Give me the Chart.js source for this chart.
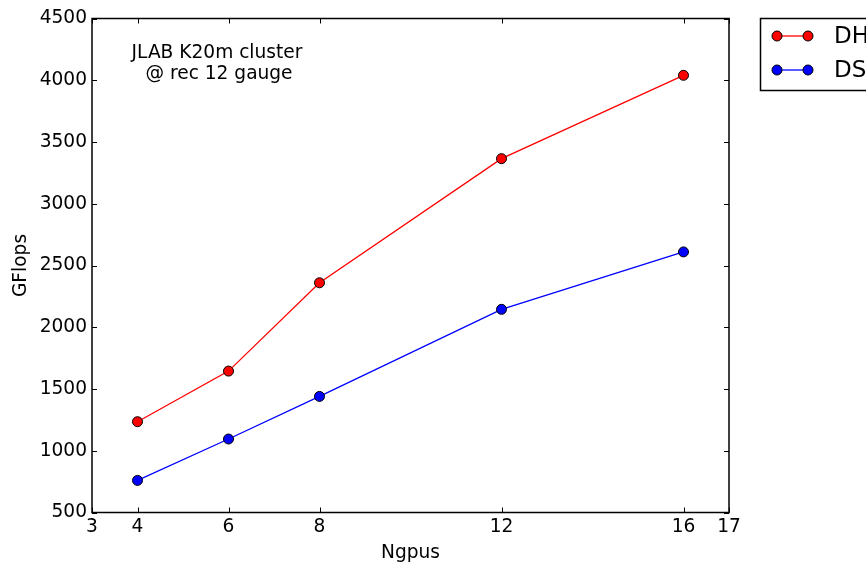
<!DOCTYPE html>
<html>
<head>
<meta charset="utf-8">
<script src="https://cdn.jsdelivr.net/npm/chart.js@4/dist/chart.umd.min.js"></script>
<style>
html,body{margin:0;padding:0;background:#fff;}
#wrap{width:866px;height:566px;position:relative;}
</style>
</head>
<body>
<div id="wrap"><canvas id="c" width="866" height="566"></canvas></div>
<script>
const ngpus = [4, 6, 8, 12, 16];
const dhValues = [1235, 1645, 2360, 3365, 4040];
const dsValues = [760, 1095, 1440, 2145, 2610];
const seriesLabels = ['DH', 'DS'];
const seriesColors = ['#ff0000', '#0000ff'];
const xTicks = [3, 4, 6, 8, 12, 16, 17];
const yTicks = [500, 1000, 1500, 2000, 2500, 3000, 3500, 4000, 4500];
const annotationLines = ['JLAB K20m cluster', '@ rec 12 gauge'];
const xTitle = 'Ngpus';
const yTitle = 'GFlops';

const FONT = '"DejaVu Sans", sans-serif';
const FS = 18.6;

const framePlugin = {
  id: 'frame',
  afterDatasetsDraw(chart) {
    const ctx = chart.ctx;
    const a = chart.chartArea;
    const xs = chart.scales.x, ys = chart.scales.y;
    ctx.save();
    ctx.strokeStyle = '#000';
    ctx.lineWidth = 1.5;
    ctx.strokeRect(a.left, a.top, a.right - a.left, a.bottom - a.top);
    ctx.lineWidth = 1;
    const tl = 5;
    ctx.beginPath();
    xTicks.forEach(v => {
      const px = Math.round(xs.getPixelForValue(v)) + 0.5;
      ctx.moveTo(px, a.bottom); ctx.lineTo(px, a.bottom - tl);
      ctx.moveTo(px, a.top); ctx.lineTo(px, a.top + tl);
    });
    yTicks.forEach(v => {
      const py = Math.round(ys.getPixelForValue(v)) + 0.5;
      ctx.moveTo(a.left, py); ctx.lineTo(a.left + tl, py);
      ctx.moveTo(a.right, py); ctx.lineTo(a.right - tl, py);
    });
    ctx.stroke();

    // annotation
    ctx.fillStyle = '#000';
    ctx.font = FS + 'px ' + FONT;
    ctx.textAlign = 'center';
    ctx.textBaseline = 'alphabetic';
    ctx.fillText(annotationLines[0], 217, 58);
    ctx.fillText(annotationLines[1], 219, 79);

    // legend (outside, clipped by canvas)
    const lx = 760.5, ly = 18.5;
    ctx.lineWidth = 1.5;
    ctx.strokeStyle = '#000';
    ctx.fillStyle = '#fff';
    ctx.fillRect(lx, ly, 220, 72);
    ctx.strokeRect(lx, ly, 220, 72);
    const rows = [36, 70];
    chart.data.datasets.forEach((ds, i) => {
      const y = rows[i];
      ctx.strokeStyle = ds.borderColor;
      ctx.lineWidth = 1.3;
      ctx.beginPath();
      ctx.moveTo(777, y); ctx.lineTo(808, y);
      ctx.stroke();
      [777, 808].forEach(x => {
        ctx.beginPath();
        ctx.arc(x, y, 5, 0, Math.PI * 2);
        ctx.fillStyle = ds.backgroundColor;
        ctx.fill();
        ctx.strokeStyle = '#000';
        ctx.lineWidth = 1;
        ctx.stroke();
      });
      ctx.fillStyle = '#000';
      ctx.font = '23px ' + FONT;
      ctx.textAlign = 'left';
      ctx.textBaseline = 'middle';
      ctx.fillText(ds.label, 834, y + 1);
    });
    ctx.restore();
  }
};

function mkData(vals) { return ngpus.map((x, i) => ({x: x, y: vals[i]})); }

new Chart(document.getElementById('c'), {
  type: 'line',
  data: {
    datasets: [
      {label: seriesLabels[0], data: mkData(dhValues), borderColor: seriesColors[0], backgroundColor: seriesColors[0],
       borderWidth: 1.3, pointRadius: 5, pointBorderColor: '#000', pointBorderWidth: 1, pointBackgroundColor: seriesColors[0], tension: 0},
      {label: seriesLabels[1], data: mkData(dsValues), borderColor: seriesColors[1], backgroundColor: seriesColors[1],
       borderWidth: 1.3, pointRadius: 5, pointBorderColor: '#000', pointBorderWidth: 1, pointBackgroundColor: seriesColors[1], tension: 0}
    ]
  },
  options: {
    responsive: false,
    animation: false,
    layout: {padding: {top: 18.5, right: 137, bottom: 0, left: 0}},
    plugins: {legend: {display: false}, tooltip: {enabled: false}},
    scales: {
      x: {
        type: 'linear', min: 3, max: 17,
        afterBuildTicks: s => { s.ticks = xTicks.map(v => ({value: v})); },
        afterFit: s => { s.height = 53.5; },
        grid: {display: false, drawTicks: false},
        border: {display: false},
        ticks: {color: '#000', font: {family: FONT, size: FS}, padding: 4, autoSkip: false, maxRotation: 0,
                callback: v => String(v)},
        title: {display: true, text: xTitle, color: '#000', font: {family: FONT, size: FS}, padding: {top: 0, bottom: 2}}
      },
      y: {
        type: 'linear', min: 500, max: 4500,
        afterBuildTicks: s => { s.ticks = yTicks.map(v => ({value: v})); },
        afterFit: s => { s.width = 92; },
        grid: {display: false, drawTicks: false},
        border: {display: false},
        ticks: {color: '#000', font: {family: FONT, size: FS}, padding: 5, autoSkip: false,
                callback: v => String(v)},
        title: {display: true, text: yTitle, color: '#000', font: {family: FONT, size: FS}, padding: {top: 10, bottom: 0}}
      }
    }
  },
  plugins: [framePlugin]
});
</script>
</body>
</html>
